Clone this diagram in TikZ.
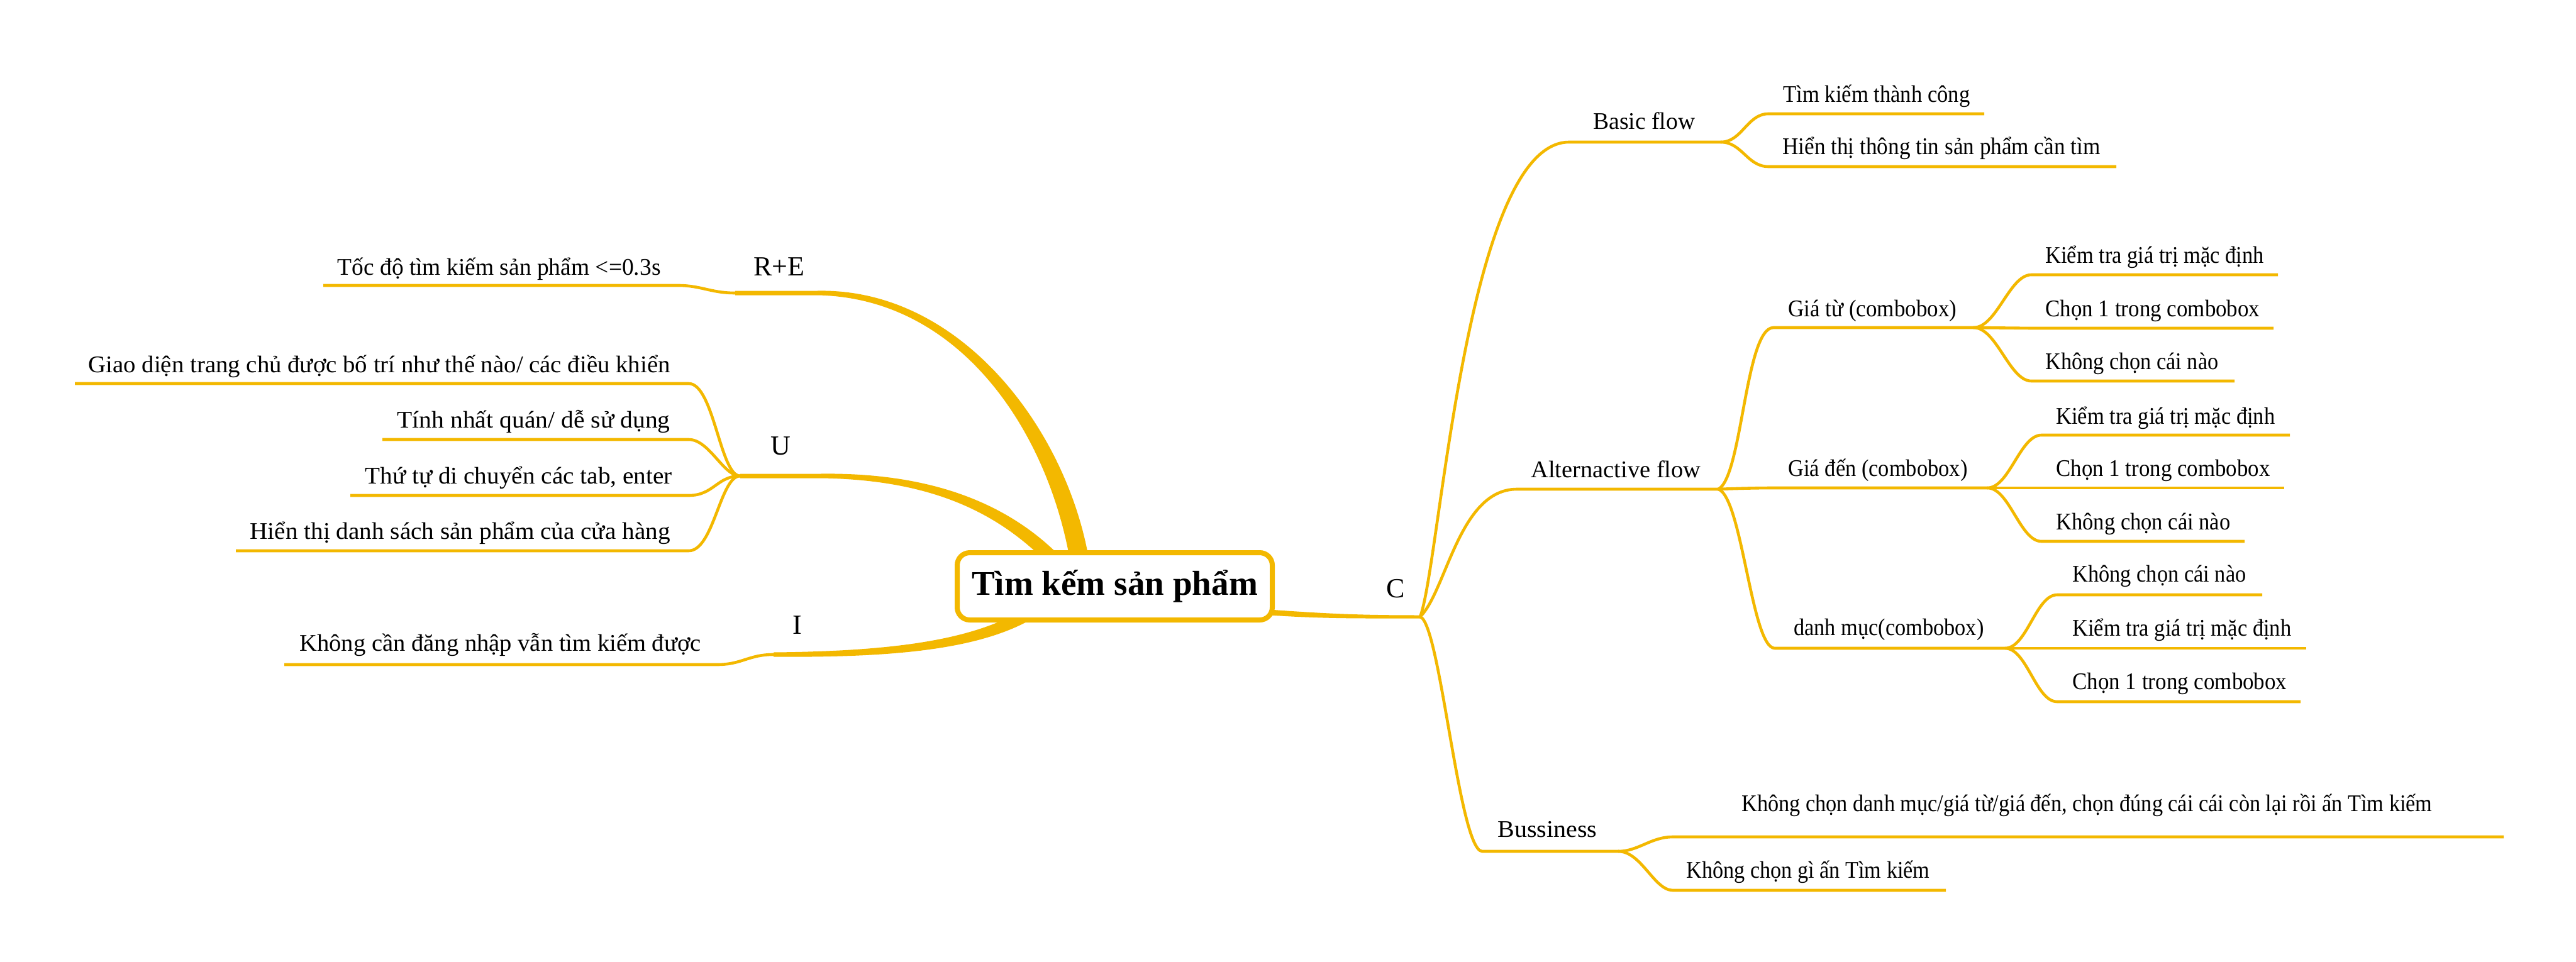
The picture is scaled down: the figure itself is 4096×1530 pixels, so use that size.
\documentclass[tikz,border=0pt]{standalone}
\usepackage{fontspec}
\usepackage{graphicx}
\setmainfont{Liberation Serif}
\usetikzlibrary{calc}
\definecolor{br}{RGB}{243,184,0}
\newcommand\tw[2]{\resizebox{#1pt}{\height}{#2}}
\tikzset{
 lbl/.style={inner sep=0pt, font=\fontsize{19}{23}\selectfont},
 lblL/.style={lbl, anchor=base east},
 lblR/.style={lbl, anchor=base west},
 hublbl/.style={inner sep=0pt, anchor=base west, font=\fontsize{22}{26}\selectfont},
 ln/.style={draw=br, line width=2.3pt, line cap=butt, line join=round},
 rootbox/.style={draw=br, fill=white, line width=4pt, rounded corners=10pt,
   minimum width=250.5pt, minimum height=53.5pt, inner sep=0pt,
   font=\fontsize{27.5}{32}\selectfont\bfseries},
}
\begin{document}
\begin{tikzpicture}[x=0.5pt,y=-0.5pt]
\useasboundingbox (0,0) rectangle (4096,1530);
\fill[white] (0,0) rectangle (4096,1530);

% ---------- named points ----------
\coordinate (reH) at (1169,466);
\coordinate (reA) at (1078,454); \coordinate (reB) at (514,454);
\coordinate (uH) at (1177,757);
\coordinate (u1a) at (1095,610); \coordinate (u1b) at (119,610);
\coordinate (u2a) at (1095,699); \coordinate (u2b) at (608,699);
\coordinate (u3a) at (1095,788); \coordinate (u3b) at (557,788);
\coordinate (u4a) at (1095,876); \coordinate (u4b) at (375,876);
\coordinate (iH) at (1230,1041);
\coordinate (iA) at (1140,1057); \coordinate (iB) at (452,1057);

\coordinate (cH) at (2258,981);
\coordinate (bL) at (2495,226); \coordinate (bH) at (2736,226);
\coordinate (b1a) at (2812,181); \coordinate (b1b) at (3155,181);
\coordinate (b2a) at (2812,265); \coordinate (b2b) at (3365,265);
\coordinate (aL) at (2412,778); \coordinate (aH) at (2732,778);
\coordinate (gtL) at (2820,521); \coordinate (gtH) at (3138,521);
\coordinate (gt1a) at (3230,437); \coordinate (gt1b) at (3622,437);
\coordinate (gt2a) at (3230,522); \coordinate (gt2b) at (3615,522);
\coordinate (gt3a) at (3230,606); \coordinate (gt3b) at (3553,606);
\coordinate (gdL) at (2822,776); \coordinate (gdH) at (3160,776);
\coordinate (gd1a) at (3246,692); \coordinate (gd1b) at (3641,692);
\coordinate (gd2a) at (3246,776); \coordinate (gd2b) at (3632,776);
\coordinate (gd3a) at (3246,861); \coordinate (gd3b) at (3569,861);
\coordinate (dmL) at (2822,1031); \coordinate (dmH) at (3188,1031);
\coordinate (dm1a) at (3271,946); \coordinate (dm1b) at (3597,946);
\coordinate (dm2a) at (3271,1031); \coordinate (dm2b) at (3667,1031);
\coordinate (dm3a) at (3271,1116); \coordinate (dm3b) at (3658,1116);
\coordinate (sL) at (2357,1354); \coordinate (sH) at (2573,1354);
\coordinate (s1a) at (2660,1331); \coordinate (s1b) at (3981,1331);
\coordinate (s2a) at (2660,1416); \coordinate (s2b) at (3094,1416);

% ---------- tapered main branches ----------
% R+E
\fill[br] ($(reH)+(0,-3.5)$) -- (1300,462.5) .. controls (1530,458) and (1699.8,687.7) .. (1732.8,897.7)
  -- (1703.2,902.3) .. controls (1670.2,692.3) and (1530,474) .. (1300,469.5) -- ($(reH)+(0,3.5)$) -- cycle;
% U
\fill[br] ($(uH)+(0,-3.5)$) -- (1305,753.5) .. controls (1500,751) and (1618,812.5) .. (1693,892.5)
  -- (1677,907.5) .. controls (1602,827.5) and (1500,763) .. (1305,760.5) -- ($(uH)+(0,3.5)$) -- cycle;
% I
\fill[br] ($(iH)+(0,-3.5)$) .. controls (1450,1035.5) and (1574,1012) .. (1654,952)
  -- (1666,968) .. controls (1586,1028) and (1450,1046.5) .. ($(iH)+(0,3.5)$) -- cycle;
% C
\fill[br] (1990,967.5) .. controls (2100,975.5) and (2150,978.5) .. ($(cH)+(0,-2.5)$)
  -- ($(cH)+(0,2.5)$) .. controls (2150,983.5) and (2100,984.5) .. (1990,976.5) -- cycle;

% ---------- left sub-branches ----------
\draw[ln] (reH) .. controls (1130,466) and (1115,454) .. (reA) -- (reB);
\draw[ln] (uH) .. controls (1145,757) and (1135,610) .. (u1a) -- (u1b);
\draw[ln] (uH) .. controls (1150,757) and (1128,699) .. (u2a) -- (u2b);
\draw[ln] (uH) .. controls (1140,757) and (1135,788) .. (u3a) -- (u3b);
\draw[ln] (uH) .. controls (1145,757) and (1135,876) .. (u4a) -- (u4b);
\draw[ln] (iH) .. controls (1190,1041) and (1180,1057) .. (iA) -- (iB);

% ---------- right sub-branches ----------
\draw[ln] (cH) .. controls (2290,900) and (2330,226) .. (bL) -- (bH);
\draw[ln] (bH) .. controls (2770,226) and (2778,181) .. (b1a) -- (b1b);
\draw[ln] (bH) .. controls (2770,226) and (2778,265) .. (b2a) -- (b2b);
\draw[ln] (cH) .. controls (2300,940) and (2320,778) .. (aL) -- (aH);
\draw[ln] (aH) .. controls (2770,760) and (2775,521) .. (gtL) -- (gtH);
\draw[ln] (aH) .. controls (2760,777) and (2790,776) .. (gdL) -- (gdH);
\draw[ln] (aH) .. controls (2770,790) and (2785,1031) .. (dmL) -- (dmH);
\draw[ln] (gtH) .. controls (3175,521) and (3195,437) .. (gt1a) -- (gt1b);
\draw[ln] (gtH) -- (gt2a) -- (gt2b);
\draw[ln] (gtH) .. controls (3175,521) and (3195,606) .. (gt3a) -- (gt3b);
\draw[ln] (gdH) .. controls (3195,776) and (3212,692) .. (gd1a) -- (gd1b);
\draw[ln] (gdH) -- (gd2a) -- (gd2b);
\draw[ln] (gdH) .. controls (3195,776) and (3212,861) .. (gd3a) -- (gd3b);
\draw[ln] (dmH) .. controls (3223,1031) and (3237,946) .. (dm1a) -- (dm1b);
\draw[ln] (dmH) -- (dm2a) -- (dm2b);
\draw[ln] (dmH) .. controls (3223,1031) and (3237,1116) .. (dm3a) -- (dm3b);
\draw[ln] (cH) .. controls (2290,990) and (2320,1354) .. (sL) -- (sH);
\draw[ln] (sH) .. controls (2605,1354) and (2625,1331) .. (s1a) -- (s1b);
\draw[ln] (sH) .. controls (2610,1354) and (2630,1416) .. (s2a) -- (s2b);

% ---------- root ----------
\node[rootbox] (root) at (1772.5,932.5) {\tw{227.5}{Tìm kếm sản phẩm}};

% ---------- labels left ----------
\node[hublbl] (lRE) at (1198,438) {R+E};
\node[hublbl] (lU) at (1225,723) {U};
\node[hublbl] (lI) at (1260,1008) {I};
\node[lblL] (t1) at (1051,437) {\tw{257}{Tốc độ tìm kiếm sản phẩm <=0.3s}};
\node[lblL] (t2) at (1066,592) {\tw{462.5}{Giao diện trang chủ được bố trí như thế nào/ các điều khiển}};
\node[lblL] (t3) at (1066,680) {\tw{217}{Tính nhất quán/ dễ sử dụng}};
\node[lblL] (t4) at (1069,769) {\tw{244}{Thứ tự di chuyển các tab, enter}};
\node[lblL] (t5) at (1066,857) {\tw{334}{Hiển thị danh sách sản phẩm của cửa hàng}};
\node[lblL] (t6) at (1115,1035) {\tw{319}{Không cần đăng nhập vẫn tìm kiếm được}};

% ---------- labels right ----------
\node[hublbl] (lC) at (2204,950) {C};
\node[lblR] (r1) at (2533,206) {\tw{81}{Basic flow}};
\node[lblR] (r2) at (2835,163) {\tw{148.5}{Tìm kiếm thành công}};
\node[lblR] (r3) at (2834,246) {\tw{252.5}{Hiển thị thông tin sản phẩm cần tìm}};
\node[lblR] (r4) at (2434,759) {\tw{135}{Alternactive flow}};
\node[lblR] (r5) at (2843,503) {\tw{134}{Giá từ (combobox)}};
\node[lblR] (r6) at (2843,757) {\tw{142.5}{Giá đến (combobox)}};
\node[lblR] (r7) at (2852,1010) {\tw{151}{danh mục(combobox)}};
\node[lblR] (r8) at (3252,418) {\tw{173.5}{Kiểm tra giá trị mặc định}};
\node[lblR] (r9) at (3252,503) {\tw{170.5}{Chọn 1 trong combobox}};
\node[lblR] (r10) at (3252,587) {\tw{137.5}{Không chọn cái nào}};
\node[lblR] (r11) at (3269,674) {\tw{174}{Kiểm tra giá trị mặc định}};
\node[lblR] (r12) at (3269,757) {\tw{170}{Chọn 1 trong combobox}};
\node[lblR] (r13) at (3269,842) {\tw{138.5}{Không chọn cái nào}};
\node[lblR] (r14) at (3295,925) {\tw{138}{Không chọn cái nào}};
\node[lblR] (r15) at (3295,1011) {\tw{174}{Kiểm tra giá trị mặc định}};
\node[lblR] (r16) at (3295,1096) {\tw{170.5}{Chọn 1 trong combobox}};
\node[lblR] (r17) at (2381,1331) {\tw{79}{Bussiness}};
\node[lblR] (r18) at (2769,1290) {\tw{549}{Không chọn danh mục/giá từ/giá đến, chọn đúng cái cái còn lại rồi ấn Tìm kiếm}};
\node[lblR] (r19) at (2681,1396) {\tw{193.5}{Không chọn gì ấn Tìm kiếm}};
\end{tikzpicture}
\end{document}
